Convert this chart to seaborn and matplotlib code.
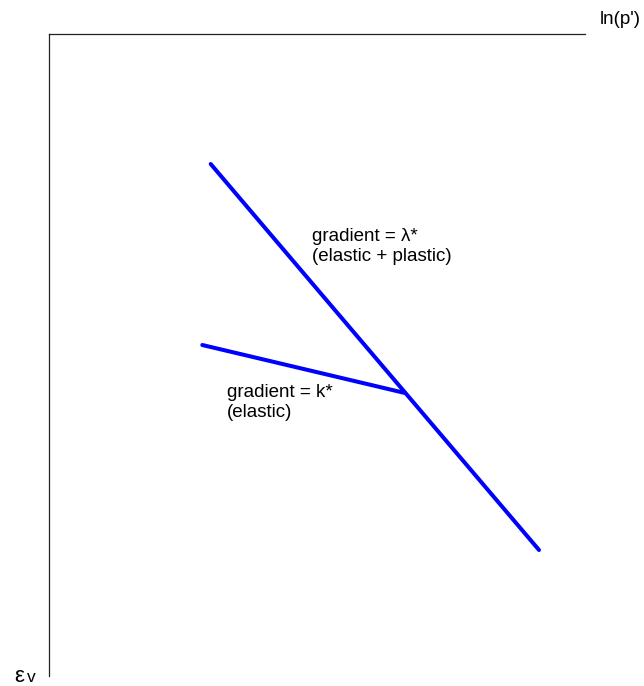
import matplotlib
matplotlib.use("Agg")
import matplotlib.pyplot as plt
import seaborn as sns
import pandas as pd

sns.set_theme(style="white")
plt.rcParams["font.family"] = ["Liberation Sans", "DejaVu Sans"]

# Idealised compression lines in ln(p') - volumetric strain space
# (x: ln(p') units along the axis, y: volumetric strain, increasing downward)
ncl_x = [161.7, 490.0]
ncl_y = [130.0, 516.0]
url_x = [153.3, 356.0]
url_y = [311.0, 359.0]

ncl = pd.DataFrame({"lnp": ncl_x, "ev": ncl_y, "line": "ncl"})
url = pd.DataFrame({"lnp": url_x, "ev": url_y, "line": "url"})

fig = plt.figure(figsize=(6.44, 6.86), dpi=100)
ax = fig.add_axes([49 / 644, (686 - 676) / 686, (585 - 49) / 644, (676 - 34) / 686])

sns.lineplot(data=ncl, x="lnp", y="ev", color="#0000ff", linewidth=2.9,
             ax=ax, legend=False, sort=False)
sns.lineplot(data=url, x="lnp", y="ev", color="#0000ff", linewidth=2.9,
             ax=ax, legend=False, sort=False)

ax.set_xlim(0, 536)
ax.set_ylim(642, 0)
ax.set_xticks([])
ax.set_yticks([])
ax.set_xlabel("")
ax.set_ylabel("")
for side in ("right", "bottom"):
    ax.spines[side].set_visible(False)
for side in ("top", "left"):
    ax.spines[side].set_visible(True)
    ax.spines[side].set_color("#222222")
    ax.spines[side].set_linewidth(0.9)
ax.set_facecolor("white")

ax.text(263, 194, "gradient = λ*\n(elastic + plastic)", fontsize=13.5,
        color="black", va="top", ha="left", linespacing=1.2)
ax.text(178, 350, "gradient = k*\n(elastic)", fontsize=13.5,
        color="black", va="top", ha="left", linespacing=1.2)

fig.text(600 / 644, 1 - 24 / 686, "ln(p')", fontsize=13.5, color="black",
         va="baseline", ha="left")
fig.text(14 / 644, 1 - 682 / 686, "ε", fontsize=16, color="black",
         va="baseline", ha="left")
fig.text(27 / 644, 1 - 682 / 686, "v", fontsize=12.5, color="black",
         va="baseline", ha="left")

fig.savefig("out.png", dpi=100, facecolor="white")
